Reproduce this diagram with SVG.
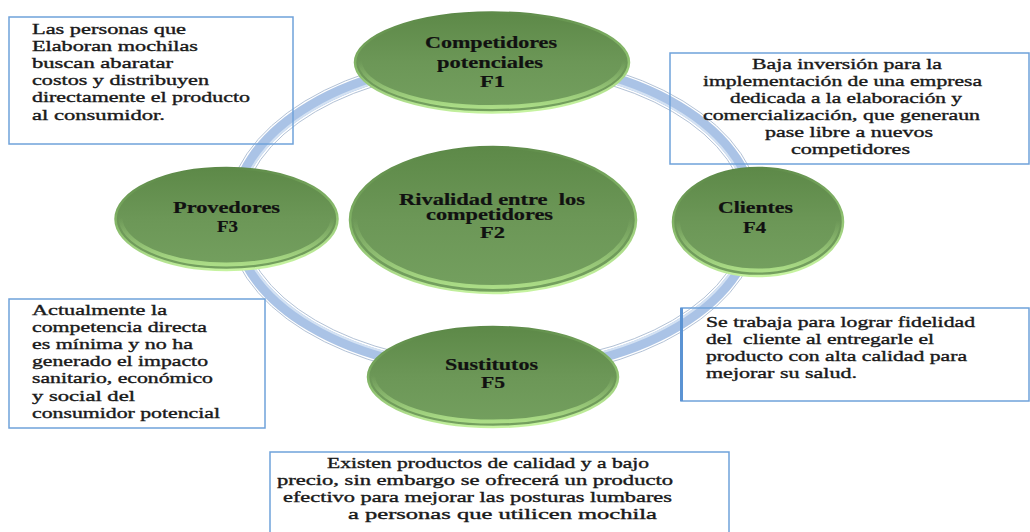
<svg xmlns="http://www.w3.org/2000/svg" width="1030" height="532" viewBox="0 0 1030 532">
<defs>
<linearGradient id="gfill" x1="0" y1="0" x2="0" y2="1">
<stop offset="0" stop-color="#5d8948"/>
<stop offset="0.5" stop-color="#6c9757"/>
<stop offset="1" stop-color="#74a05f"/>
</linearGradient>
<linearGradient id="grim" x1="0.3" y1="0" x2="0.5" y2="1">
<stop offset="0" stop-color="#5a8646"/>
<stop offset="0.55" stop-color="#8cbf6e"/>
<stop offset="1" stop-color="#c6f3a0"/>
</linearGradient>
<linearGradient id="ghi" x1="0" y1="0" x2="0" y2="1">
<stop offset="0.5" stop-color="#b9ec90" stop-opacity="0"/>
<stop offset="1" stop-color="#b9ec90" stop-opacity="0.8"/>
</linearGradient>
<style>
.node{fill:url(#gfill);stroke:url(#grim);stroke-width:2.5}
.hi{fill:none;stroke:url(#ghi);stroke-width:4}
.lbl{font-family:"Liberation Serif","Times New Roman",serif;font-size:16px;font-weight:bold;fill:#111;stroke:#111;stroke-width:0.2;white-space:pre}
.box{fill:none;stroke:#6fa2da;stroke-width:1.5}
.txt{font-family:"Liberation Serif","Times New Roman",serif;font-size:14px;fill:#1a1a1a;stroke:#1a1a1a;stroke-width:0.35;white-space:pre}
.ringline{fill:none;stroke:#b3c2d6;stroke-width:1}
</style>
</defs>
<rect width="1030" height="532" fill="#ffffff"/>
<g id="connectors">
<ellipse cx="494" cy="216" rx="260" ry="155" fill="none" stroke="#aac3e6" stroke-width="11"/>
<ellipse cx="494" cy="216" rx="255.5" ry="150.5" fill="none" stroke="#d4e2f3" stroke-width="2"/>
<ellipse class="ringline" cx="494" cy="216" rx="252.5" ry="147.5"/>
<ellipse class="ringline" cx="494" cy="216" rx="267.5" ry="162.5"/>
</g>
<g id="F1">
<ellipse class="node" cx="492" cy="62.5" rx="137" ry="50"/>
<ellipse class="hi" cx="492" cy="61" rx="132" ry="46"/>
<text class="lbl" x="425" y="48" textLength="132" lengthAdjust="spacingAndGlyphs">Competidores</text>
<text class="lbl" x="437" y="68" textLength="106" lengthAdjust="spacingAndGlyphs">potenciales</text>
<text class="lbl" x="480" y="87" textLength="25" lengthAdjust="spacingAndGlyphs">F1</text>
</g>
<g id="F2">
<ellipse class="node" cx="493" cy="220" rx="143" ry="73"/>
<ellipse class="hi" cx="493" cy="218" rx="138" ry="69"/>
<text class="lbl" x="399" y="205" textLength="186" lengthAdjust="spacingAndGlyphs">Rivalidad entre  los</text>
<text class="lbl" x="426" y="220" textLength="127" lengthAdjust="spacingAndGlyphs">competidores</text>
<text class="lbl" x="480" y="238" textLength="25" lengthAdjust="spacingAndGlyphs">F2</text>
</g>
<g id="F3">
<ellipse class="node" cx="226.5" cy="219" rx="111" ry="51"/>
<ellipse class="hi" cx="226.5" cy="217.5" rx="106" ry="47"/>
<text class="lbl" x="173" y="213" textLength="107" lengthAdjust="spacingAndGlyphs">Provedores</text>
<text class="lbl" x="217" y="232" textLength="21" lengthAdjust="spacingAndGlyphs">F3</text>
</g>
<g id="F4">
<ellipse class="node" cx="758" cy="222" rx="85" ry="54"/>
<ellipse class="hi" cx="758" cy="220.5" rx="80" ry="50"/>
<text class="lbl" x="718" y="213" textLength="75" lengthAdjust="spacingAndGlyphs">Clientes</text>
<text class="lbl" x="743" y="233" textLength="23" lengthAdjust="spacingAndGlyphs">F4</text>
</g>
<g id="F5">
<ellipse class="node" cx="493" cy="377" rx="125" ry="50"/>
<ellipse class="hi" cx="493" cy="375.5" rx="120" ry="46"/>
<text class="lbl" x="445" y="370" textLength="93" lengthAdjust="spacingAndGlyphs">Sustitutos</text>
<text class="lbl" x="481" y="388" textLength="24" lengthAdjust="spacingAndGlyphs">F5</text>
</g>
<g id="box1">
<rect class="box" x="9" y="17" width="284" height="127"/>
<text class="txt" x="32" y="33.5" textLength="154" lengthAdjust="spacingAndGlyphs">Las personas que</text>
<text class="txt" x="32" y="50.7" textLength="166" lengthAdjust="spacingAndGlyphs">Elaboran mochilas</text>
<text class="txt" x="32" y="67.9" textLength="141" lengthAdjust="spacingAndGlyphs">buscan abaratar</text>
<text class="txt" x="32" y="85.1" textLength="177" lengthAdjust="spacingAndGlyphs">costos y distribuyen</text>
<text class="txt" x="32" y="102.3" textLength="218" lengthAdjust="spacingAndGlyphs">directamente el producto</text>
<text class="txt" x="32" y="119.5" textLength="133" lengthAdjust="spacingAndGlyphs">al consumidor.</text>
</g>
<g id="box2">
<rect class="box" x="670" y="53" width="359" height="111"/>
<text class="txt" x="752" y="69" textLength="190" lengthAdjust="spacingAndGlyphs">Baja inversión para la</text>
<text class="txt" x="703" y="86" textLength="279" lengthAdjust="spacingAndGlyphs">implementación de una empresa</text>
<text class="txt" x="730" y="103" textLength="232" lengthAdjust="spacingAndGlyphs">dedicada a la elaboración y</text>
<text class="txt" x="703" y="120" textLength="277" lengthAdjust="spacingAndGlyphs">comercialización, que generaun</text>
<text class="txt" x="765" y="137" textLength="168" lengthAdjust="spacingAndGlyphs">pase libre a nuevos</text>
<text class="txt" x="791" y="154" textLength="119" lengthAdjust="spacingAndGlyphs">competidores</text>
</g>
<g id="box3">
<rect class="box" x="9" y="299" width="256" height="129"/>
<text class="txt" x="32" y="315" textLength="135" lengthAdjust="spacingAndGlyphs">Actualmente la</text>
<text class="txt" x="32" y="332" textLength="175" lengthAdjust="spacingAndGlyphs">competencia directa</text>
<text class="txt" x="32" y="349" textLength="161" lengthAdjust="spacingAndGlyphs">es mínima y no ha</text>
<text class="txt" x="32" y="366" textLength="176" lengthAdjust="spacingAndGlyphs">generado el impacto</text>
<text class="txt" x="32" y="383" textLength="181" lengthAdjust="spacingAndGlyphs">sanitario, económico</text>
<text class="txt" x="32" y="401" textLength="103" lengthAdjust="spacingAndGlyphs">y social del</text>
<text class="txt" x="32" y="418" textLength="188" lengthAdjust="spacingAndGlyphs">consumidor potencial</text>
</g>
<g id="box4">
<rect class="box" x="681" y="308" width="348" height="93"/>
<line x1="681.5" y1="308" x2="681.5" y2="401" stroke="#5b93d3" stroke-width="3"/>
<text class="txt" x="706" y="327" textLength="269" lengthAdjust="spacingAndGlyphs">Se trabaja para lograr fidelidad</text>
<text class="txt" x="706" y="344" textLength="228" lengthAdjust="spacingAndGlyphs">del  cliente al entregarle el</text>
<text class="txt" x="706" y="361" textLength="261" lengthAdjust="spacingAndGlyphs">producto con alta calidad para</text>
<text class="txt" x="706" y="378" textLength="151" lengthAdjust="spacingAndGlyphs">mejorar su salud.</text>
</g>
<g id="box5">
<rect class="box" x="270" y="452" width="459" height="90"/>
<text class="txt" x="327" y="468" textLength="322" lengthAdjust="spacingAndGlyphs">Existen productos de calidad y a bajo</text>
<text class="txt" x="277" y="485" textLength="396" lengthAdjust="spacingAndGlyphs">precio, sin embargo se ofrecerá un producto</text>
<text class="txt" x="283" y="502" textLength="389" lengthAdjust="spacingAndGlyphs">efectivo para mejorar las posturas lumbares</text>
<text class="txt" x="348" y="519" textLength="309" lengthAdjust="spacingAndGlyphs">a personas que utilicen mochila</text>
</g>
</svg>
